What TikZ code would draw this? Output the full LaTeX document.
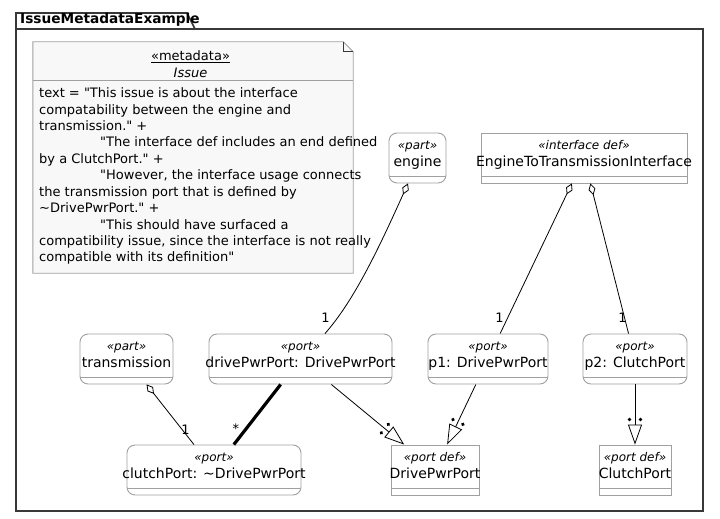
\documentclass[tikz,border=0pt]{standalone}
\usepackage{xcolor}
\usepackage{fontspec}
\setmainfont{DejaVu Sans}[Ligatures=TeXOff]
\usepackage{tikz}
\usetikzlibrary{arrows.meta, positioning, calc, decorations.markings}

\definecolor{boxgray}{RGB}{160,160,160}
\definecolor{framegray}{RGB}{56,56,56}
\definecolor{notefill}{RGB}{248,248,248}

\tikzstyle{block} = [draw=boxgray, fill=white, line width=0.9pt, inner sep=0pt, minimum height=50pt,
  path picture={\draw[boxgray, line width=0.9pt] ([yshift=7pt]path picture bounding box.south west) -- ([yshift=7pt]path picture bounding box.south east);}]
\tikzstyle{partbox} = [block, rounded corners=8pt]
\tikzstyle{defbox} = [block]
\tikzstyle{stereo} = [inner sep=0pt, anchor=base, font=\fontsize{12}{14}\selectfont\itshape]
\tikzstyle{bname} = [inner sep=0pt, anchor=base, font=\fontsize{14}{16}\selectfont]
\tikzstyle{mult} = [inner sep=0pt, anchor=south east, font=\fontsize{13}{15}\selectfont]
\tikzstyle{member} = [line width=0.8pt, {Diamond[open, length=12pt, width=7pt]}-]
\tikzstyle{definedby} = [line width=0.8pt, -{Triangle[open, length=20pt, width=14pt]},
  postaction={decorate}, decoration={markings, mark=at position -25pt with {\fill (0,5.5pt) circle (1.9pt) (0,-5.5pt) circle (1.9pt);}}]

\begin{document}
\begin{tikzpicture}[x=1pt, y=-1pt]
\useasboundingbox (0,0) rectangle (720,519);

% Package frame
\draw [framegray, line width=1.6pt] (16,511) -- (16,13) -- (187,13) -- (195,29) -- (703,29) -- (703,511) -- cycle;
\draw [framegray, line width=1.6pt] (16,29) -- (195,29);
\node (title) [anchor=base west, inner sep=0pt, font=\fontsize{13.7}{16}\selectfont\bfseries] at (20,23.5) {IssueMetadataExample};

% Metadata note
\node (issue) [minimum width=320pt, minimum height=231pt, inner sep=0pt] at (193,157.5) {};
\draw [draw=boxgray, fill=notefill, line width=0.9pt] (issue.south west) -- (issue.north west) -- ([xshift=-10pt]issue.north east) -- ([yshift=-10pt]issue.north east) -- (issue.south east) -- cycle;
\draw [framegray, line width=0.8pt] ([xshift=-10pt]issue.north east) |- ([yshift=-10pt]issue.north east);
\draw [boxgray, line width=0.9pt] (issue.west |- 0,80.5) -- (issue.east |- 0,80.5);
\node (issue-st) [anchor=base, inner sep=0pt, font=\fontsize{13}{15}\selectfont] at (190.5,61) {\underline{«metadata»}};
\node (issue-nm) [anchor=base, inner sep=0pt, font=\fontsize{13}{15}\selectfont\itshape] at (190.5,77.5) {Issue};
\node (issue-txt) [anchor=north west, inner sep=0pt, align=left, font=\fontsize{13}{16.44}\selectfont] at (39,87.5) {
    text = "This issue is about the interface\\
    compatability between the engine and\\
    transmission." +\\
    \hspace*{61pt}"The interface def includes an end defined\\
    by a ClutchPort." +\\
    \hspace*{61pt}"However, the interface usage connects\\
    the transmission port that is defined by\\
    \textasciitilde DrivePwrPort." +\\
    \hspace*{61pt}"This should have surfaced a\\
    compatibility issue, since the interface is not really\\
    compatible with its definition"
};

% Parts and definitions
\node (engine) [partbox, minimum width=57pt] at (417.5,158) {};
\node [stereo] at ([yshift=-17pt]engine.north) {«part»};
\node [bname] at ([yshift=-34pt]engine.north) {engine};

\node (interface) [defbox, minimum width=206pt] at (584,158) {};
\node [stereo] at ([yshift=-17pt]interface.north) {«interface def»};
\node [bname] at ([yshift=-34pt]interface.north) {EngineToTransmissionInterface};

\node (transmission) [partbox, minimum width=93pt] at (126.5,359) {};
\node [stereo] at ([yshift=-17pt]transmission.north) {«part»};
\node [bname] at ([yshift=-34pt]transmission.north) {transmission};

\node (drivePwrPort) [partbox, minimum width=183pt] at (300.5,359) {};
\node [stereo] at ([yshift=-17pt]drivePwrPort.north) {«port»};
\node [bname] at ([yshift=-34pt]drivePwrPort.north) {drivePwrPort: DrivePwrPort};

\node (p1) [partbox, minimum width=120pt] at (488,359) {};
\node [stereo] at ([yshift=-17pt]p1.north) {«port»};
\node [bname] at ([yshift=-34pt]p1.north) {p1: DrivePwrPort};

\node (p2) [partbox, minimum width=104pt] at (635,359) {};
\node [stereo] at ([yshift=-17pt]p2.north) {«port»};
\node [bname] at ([yshift=-34pt]p2.north) {p2: ClutchPort};

\node (clutchPort) [partbox, minimum width=174pt] at (214,470) {};
\node [stereo] at ([yshift=-17pt]clutchPort.north) {«port»};
\node [bname] at ([yshift=-34pt]clutchPort.north) {clutchPort: \textasciitilde DrivePwrPort};

\node (drivePwrDef) [defbox, minimum width=88pt] at (435,470) {};
\node [stereo] at ([yshift=-17pt]drivePwrDef.north) {«port def»};
\node [bname] at ([yshift=-34pt]drivePwrDef.north) {DrivePwrPort};

\node (clutchDef) [defbox, minimum width=72pt] at (635,470) {};
\node [stereo] at ([yshift=-17pt]clutchDef.north) {«port def»};
\node [bname] at ([yshift=-34pt]clutchDef.north) {ClutchPort};

% Connectors
\draw [member] ([xshift=-9.5pt]engine.south) .. controls +(-28,62) and +(30,-34) .. ([xshift=24.5pt]drivePwrPort.north)
    node [mult, pos=1, xshift=5pt, yshift=11pt] {1};
\draw [member] (interface) -- (p1) node [mult, pos=1, xshift=4pt, yshift=11pt] {1};
\draw [member] (interface) -- (p2) node [mult, pos=1, xshift=-1.5pt, yshift=11pt] {1};
\draw [member] (transmission) -- (clutchPort) node [mult, pos=1, xshift=-4pt, yshift=10pt] {1};
\draw [line width=3.2pt] (drivePwrPort) -- (clutchPort) node [mult, pos=1, xshift=7pt, yshift=9pt] {*};

\draw [definedby] (drivePwrPort) -- (drivePwrDef);
\draw [definedby] (p1) -- (drivePwrDef);
\draw [definedby] (p2) -- (clutchDef);
\end{tikzpicture}
\end{document}
